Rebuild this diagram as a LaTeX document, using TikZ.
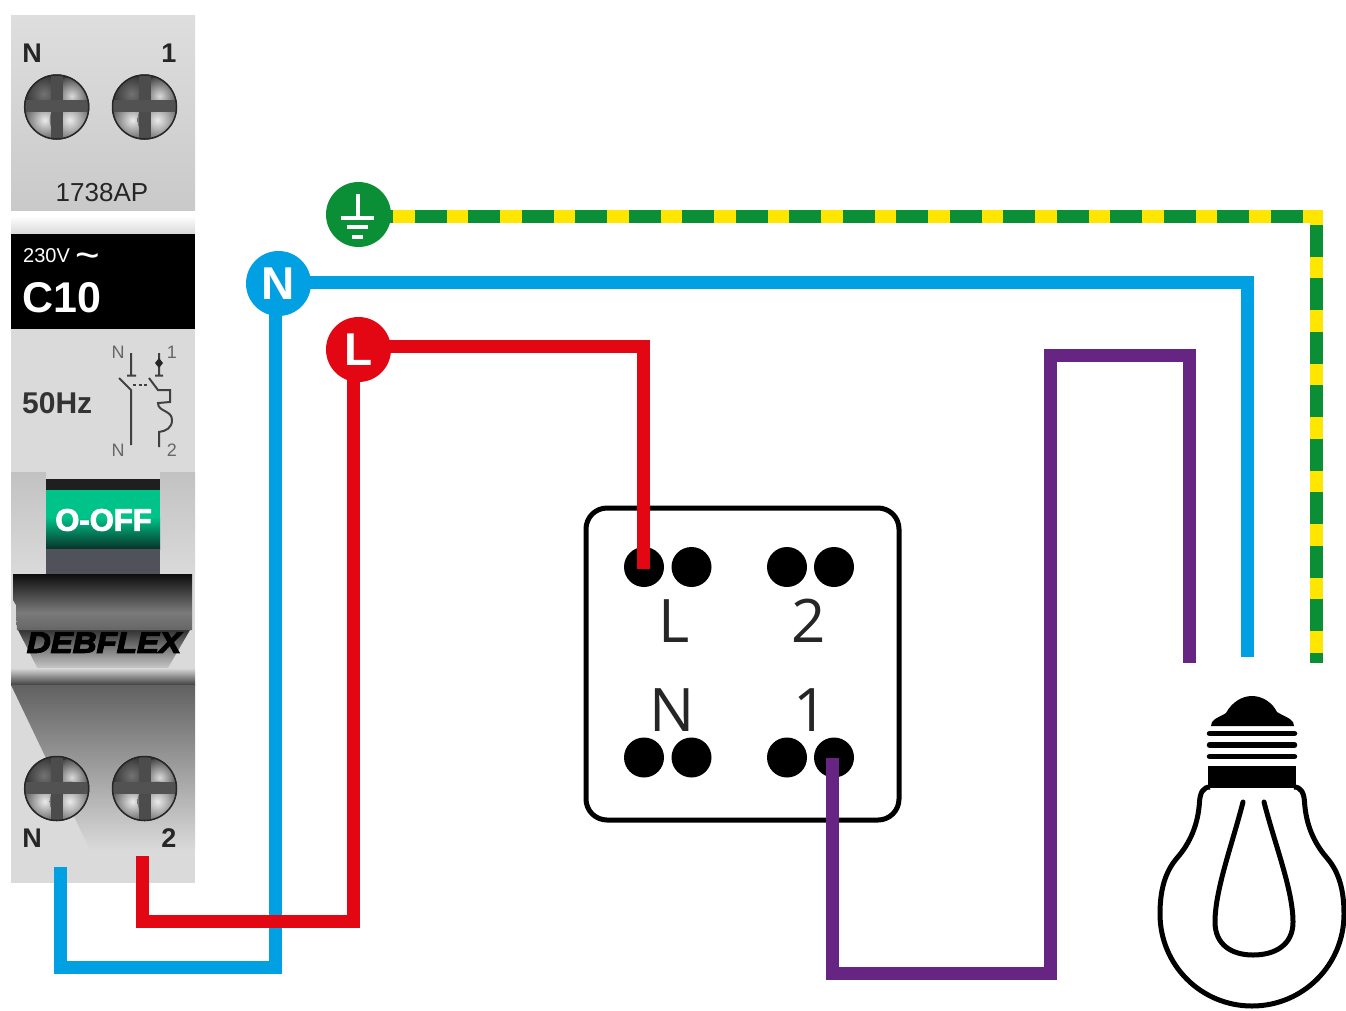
\documentclass[tikz,border=0pt]{standalone}
\usepackage{fontspec}
\setmainfont{Liberation Sans}
\newfontfamily\opensans{Open Sans}
\newfontfamily\debfont[BoldItalicFeatures={FakeBold=4}]{Liberation Sans}
\newfontfamily\offfont[BoldFeatures={FakeBold=3}]{Liberation Sans}
\usetikzlibrary{calc}
\definecolor{wblue}{HTML}{00A0E3}
\definecolor{wred}{HTML}{E30613}
\definecolor{wpurple}{HTML}{662483}
\definecolor{wgreen}{HTML}{0B8F36}
\definecolor{wyellow}{HTML}{FFE600}
\definecolor{panel}{HTML}{DADADA}
\definecolor{swgreen}{RGB}{0,195,137}
\definecolor{swdark}{RGB}{8,50,40}
\definecolor{swgrey}{RGB}{80,82,90}
\tikzset{
  x=1pt,y=-1pt,
  wire/.style={line width=13pt,line cap=butt,line join=miter},
  badge/.style={circle,minimum size=65pt,inner sep=0pt,text=white,font=\fontsize{46}{46}\selectfont\bfseries},
  term/.style={circle,fill=black,minimum size=40pt,inner sep=0pt},
  swlabel/.style={inner sep=0pt,anchor=base,text=black!85,font=\opensans\fontsize{60}{60}\selectfont},
  mod/.style={inner sep=0pt,anchor=base,text=black!85,font=\fontsize{27}{27}\selectfont\bfseries},
  tiny/.style={inner sep=0pt,text=black!60,font=\fontsize{18}{18}\selectfont},
  sym/.style={draw=black!75,line width=2pt}
}
\newcommand{\screw}[2]{%
  \begin{scope}
    \clip (#1,#2) circle[radius=32.5];
    \fill[black!80] (#1-33,#2-33) rectangle (#1+33,#2+33);
    \shade[inner color=black!55,outer color=black!80] (#1-13,#2-13) circle[radius=20];
    \shade[inner color=white!85!black,outer color=black!70] (#1+15,#2-11) circle[radius=19];
    \shade[inner color=white!92!black,outer color=black!60] (#1-12,#2+13) circle[radius=20];
    \shade[inner color=white!92!black,outer color=black!55] (#1+13,#2+13) circle[radius=20];
    \fill[black!70] (#1-6,#2-33) rectangle (#1+6,#2+33);
    \fill[black!68] (#1-33,#2-7) rectangle (#1+33,#2+5);
  \end{scope}
  \draw[black!85,line width=1.5pt] (#1,#2) circle[radius=32];
}
\begin{document}
\begin{tikzpicture}
\useasboundingbox (0,0) rectangle (1346,1010);
\fill[white] (0,0) rectangle (1346,1010);

% ---------- breaker ----------
\shade[top color=black!13,bottom color=black!21] (11,15) rectangle (195,210);
\shade[top color=white,bottom color=black!16] (11,216) rectangle (195,235);
\fill[black] (11,234) rectangle (195,329);
\fill[panel] (11,329) rectangle (195,883);
\shade[top color=black!24,bottom color=panel] (11,472) rectangle (46,575);
\shade[top color=black!24,bottom color=panel] (160,472) rectangle (195,575);
\fill[black!88] (46,479) rectangle (160,490);
\fill[swgreen] (46,490) rectangle (160,518);
\shade[top color=swgreen,bottom color=swdark] (46,517) rectangle (160,549);
\fill[swgrey] (46,549) rectangle (160,575);
% wedge below band
\shade[top color=black!80,bottom color=panel] (18,630) -- (190,630) -- (165,673) -- (40,673) -- cycle;
% dark band
\shade[top color=black!95,bottom color=black!52] (13,574) -- (192,574) -- (192,612.5) -- (16,612.5) -- (16,605) -- (13,600) -- cycle;
\shade[top color=black!52,bottom color=black!60] (16,612) -- (192,612) -- (192,630) -- (17,630) -- cycle;
% separator
\shade[top color=panel,bottom color=black!75] (11,668) rectangle (195,685);
% lower gradient
\shade[top color=black!62,bottom color=panel] (11,685) -- (195,685) -- (195,850) -- (90,850) -- cycle;
% texts
\node[mod] (tN) at (32,62.5) {N};
\node[mod] (t1) at (169,62.5) {1};
\node[inner sep=0pt,text=black!85,font=\fontsize{26}{26}\selectfont] (model) at (102,193) {1738AP};
\node[inner sep=0pt,anchor=base west,text=white,font=\fontsize{20}{20}\selectfont] (volt) at (23,262) {230V \raisebox{-7pt}{\fontsize{42}{42}\selectfont\textasciitilde}};
\node[inner sep=0pt,anchor=base west,text=white,font=\fontsize{43}{43}\selectfont\bfseries] (rating) at (22,312) {C10};
\node[inner sep=0pt,anchor=base west,text=black!80,font=\fontsize{30}{30}\selectfont\bfseries] (hz) at (22,413) {50Hz};
\node[tiny] (sN1) at (118,352) {N};
\node[tiny] (sN2) at (118,450) {N};
\node[tiny] (s1) at (172,352) {1};
\node[tiny] (s2) at (172,450) {2};
\draw[sym] (131,353) -- (131,375) (127,375.5) -- (136,375.5) (119,378) -- (131,390) -- (131,445);
\draw[sym,dash pattern=on 3pt off 2.5pt] (133,385) -- (148,385);
\draw[sym] (159,353) -- (159,375) (155,375.5) -- (163,375.5) (149,378) -- (158,390) -- (170,390) -- (170,402) -- (158,403) .. controls (158,412) and (172,410) .. (172,420) .. controls (172,428) and (166,431) .. (159,432) -- (159,447);
\fill[black!85] (159,358) -- (163,363) -- (159,368) -- (155,363) -- cycle;
\node[inner sep=0pt,text=white,font=\offfont\fontsize{31}{31}\selectfont\bfseries] (off) at (103.5,520) {O-OFF};
\node[inner sep=0pt,text=black,font=\debfont\fontsize{29.5}{29.5}\selectfont\bfseries\itshape,xscale=1.12] (brand) at (104,642.5) {DEBFLEX};
\node[mod] (bN) at (32,847) {N};
\node[mod] (b2) at (169,847) {2};
\screw{56.7}{107}
\screw{144.5}{107}
\screw{56.7}{788.5}
\screw{144.5}{788.5}

% ---------- switch ----------
\draw[line width=5pt,rounded corners=21pt] (586,508) rectangle (899,820);
\node[term] (d1) at (644,567) {};
\node[term] (d2) at (691.5,567) {};
\node[term] (d3) at (787,567) {};
\node[term] (d4) at (834,567) {};
\node[term] (d5) at (644,757.5) {};
\node[term] (d6) at (691.5,757.5) {};
\node[term] (d7) at (787,757.5) {};
\node[term] (d8) at (834,757.5) {};
\node[swlabel] (sL) at (674.5,642) {L};
\node[swlabel] (s2b) at (808.5,642) {2};
\node[swlabel] (sNb) at (672,731) {N};
\node[swlabel] (s1b) at (811,731) {1};

% ---------- wire coordinates ----------
\coordinate (Ein) at (358.5,216.5);
\coordinate (Ec) at (1316,216.5);
\coordinate (Eend) at (1316,663);
\coordinate (Nr) at (278.5,282.5);
\coordinate (Nc) at (1247.5,282.5);
\coordinate (Nend) at (1247.5,657);
\coordinate (Nd) at (275,283.5);
\coordinate (Nb) at (275,967);
\coordinate (Nl) at (60.5,967);
\coordinate (Nup) at (60.5,867);
\coordinate (Lr) at (358.5,346);
\coordinate (Lc) at (643.5,346);
\coordinate (Lend) at (643.5,569);
\coordinate (Ld) at (353.5,349.5);
\coordinate (Lb) at (353.5,921);
\coordinate (Ll) at (142,921);
\coordinate (Lup) at (142,856);
\coordinate (Pa) at (832,758);
\coordinate (Pb) at (832,973);
\coordinate (Pc) at (1050.5,973);
\coordinate (Pd) at (1050.5,355.5);
\coordinate (Pe) at (1189,355.5);
\coordinate (Pf) at (1189,663);

% ---------- wires ----------
\draw[wire,wblue] (Nd) -- (Nb) -- (Nl) -- (Nup);
\draw[wire,wred] (Ld) -- (Lb) -- (Ll) -- (Lup);
\draw[wire,wblue] (Nr) -- (Nc) -- (Nend);
\draw[wire,wred] (Lr) -- (Lc) -- (Lend);
\draw[wire,wpurple] (Pa) -- (Pb) -- (Pc) -- (Pd) -- (Pe) -- (Pf);
\draw[wire,wyellow] (Ein) -- (Ec) -- (Eend);
\draw[wire,wgreen,dash pattern=on 32pt off 21.5pt,dash phase=51pt] (Ein) -- (Ec) -- (Eend);

% ---------- badges ----------
\node[badge,fill=wgreen] (E) at (358.5,214.5) {};
\node[badge,fill=wblue] (N) at (278.5,283.5) {N};
\node[badge,fill=wred] (L) at (358.5,349.5) {L};
\draw[white,line width=3.5pt] (358,194) -- (358,218);
\draw[white,line width=4pt] (341,218) -- (374,218) (347,227) -- (368,227);
\draw[white,line width=4.5pt] (352,237) -- (363,237);

% ---------- bulb ----------
\draw[line width=5pt,line join=round]
  (1210,787) .. controls (1203,787) and (1200,793) .. (1199.5,802)
  .. controls (1198,825) and (1190,843) .. (1177,858)
  .. controls (1165,872) and (1160,890) .. (1160,914)
  .. controls (1160,965) and (1201,1006) .. (1252,1006)
  .. controls (1303,1006) and (1344,965) .. (1344,914)
  .. controls (1344,890) and (1339,872) .. (1327,858)
  .. controls (1314,843) and (1306,825) .. (1304.5,802)
  .. controls (1304,793) and (1301,787) .. (1294,787);
\draw[line width=5pt,line cap=round]
  (1243,802) .. controls (1232,845) and (1215,890) .. (1215,922)
  .. controls (1215,945) and (1232,955) .. (1253,955)
  .. controls (1275,955) and (1293,945) .. (1293,922)
  .. controls (1293,890) and (1275,845) .. (1264,802);
\fill (1211,726) -- (1212,722) .. controls (1216,717) and (1222,716) .. (1226,713)
  .. controls (1232,702) and (1242,696) .. (1252,696)
  .. controls (1262,696) and (1272,702) .. (1277,712)
  .. controls (1283,716) and (1289,717) .. (1293,722) -- (1294,726) -- cycle;
\draw[line width=5.5pt,line cap=round] (1209.5,733.5) -- (1294.5,733.5) (1209.5,745) -- (1294.5,745) (1209.5,756.5) -- (1294.5,756.5);
\fill (1208,766) rectangle (1296,788);
\end{tikzpicture}
\end{document}
